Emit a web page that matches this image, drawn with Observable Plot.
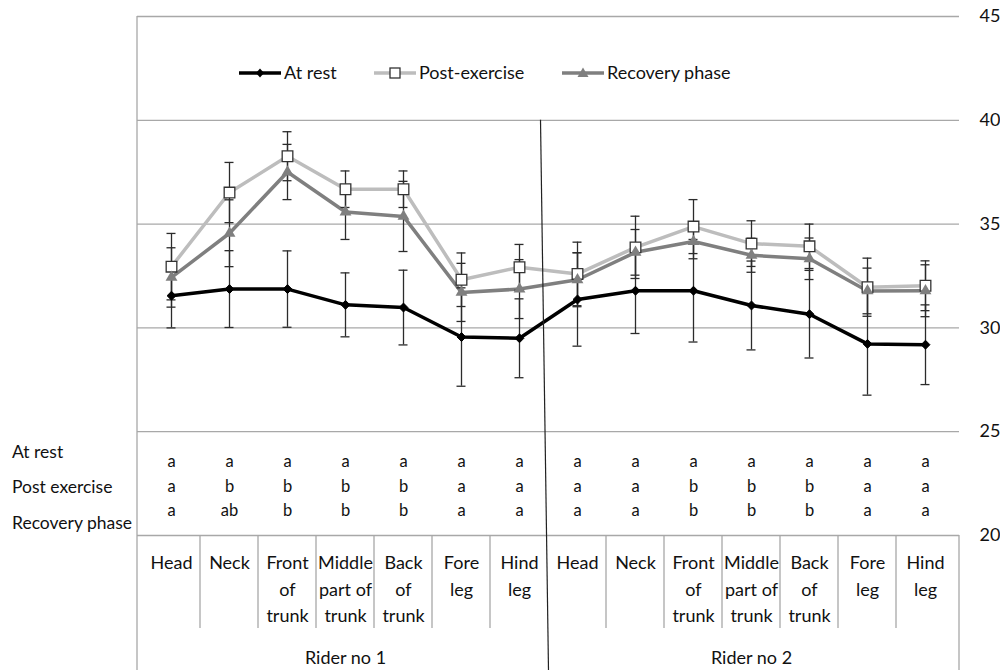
<!DOCTYPE html>
<html><head><meta charset="utf-8">
<script src="https://cdn.jsdelivr.net/npm/d3@7"></script>
<script src="https://cdn.jsdelivr.net/npm/@observablehq/plot@0.6"></script>
<style>
body{margin:0;background:#fff;}
#chart{width:1000px;height:670px;}
</style></head><body><div id="chart"></div>
<script>
// ---- data ----
const riders = ["Rider no 1", "Rider no 2"];
const sites = ["Head", "Neck", "Front of trunk", "Middle part of trunk", "Back of trunk", "Fore leg", "Hind leg"];
const siteLabels = ["Head", "Neck", "Front\nof\ntrunk", "Middle\npart of\ntrunk", "Back\nof\ntrunk", "Fore\nleg", "Hind\nleg"];
const seriesNames = ["At rest", "Post-exercise", "Recovery phase"];
const rowLabels = ["At rest", "Post exercise", "Recovery phase"];
const yTicks = [20, 25, 30, 35, 40, 45];

// means (rider 1 sites, then rider 2 sites)
const atRestMean = [31.55, 31.87, 31.87, 31.11, 30.98, 29.56, 29.50, 31.37, 31.79, 31.79, 31.08, 30.66, 29.23, 29.19];
const postMean   = [32.95, 36.52, 38.27, 36.68, 36.68, 32.32, 32.92, 32.60, 33.88, 34.88, 34.06, 33.93, 31.96, 32.03];
const recMean    = [32.43, 34.56, 37.51, 35.58, 35.37, 31.71, 31.87, 32.32, 33.64, 34.16, 33.50, 33.33, 31.78, 31.79];
// standard deviations
const atRestSD = [1.55, 1.85, 1.84, 1.54, 1.80, 2.37, 1.90, 2.25, 2.06, 2.47, 2.14, 2.11, 2.47, 1.92];
const postSD   = [1.60, 1.45, 1.18, 0.88, 0.88, 1.29, 1.10, 1.53, 1.50, 1.30, 1.10, 1.07, 1.40, 1.20];
const recSD    = [1.43, 1.61, 1.33, 1.32, 1.69, 1.40, 1.42, 1.30, 1.10, 0.83, 0.82, 1.00, 1.10, 1.25];
// significance letters
const atRestLetters = ["a","a","a","a","a","a","a", "a","a","a","a","a","a","a"];
const postLetters   = ["a","b","b","b","b","a","a", "a","a","b","b","b","a","a"];
const recLetters    = ["a","ab","b","b","b","a","a", "a","a","b","b","b","a","a"];

// ---- derived tables ----
const keys = [];
const cats = [];
riders.forEach((r, ri) => sites.forEach((s, si) => {
  const key = r + "|" + s;
  keys.push(key);
  cats.push({key, rider: r, site: s, label: siteLabels[si]});
}));
function rowsOf(series, mean, sd) {
  return keys.map((key, i) => ({key, series, mean: mean[i], sd: sd[i]}));
}
const restRows = rowsOf(seriesNames[0], atRestMean, atRestSD);
const postRows = rowsOf(seriesNames[1], postMean, postSD);
const recRows  = rowsOf(seriesNames[2], recMean, recSD);
const allRows = [...restRows, ...postRows, ...recRows];
const letterRows = [atRestLetters, postLetters, recLetters];

const colors = {"At rest": "#000000", "Post-exercise": "#bdbdbd", "Recovery phase": "#7f7f7f"};
const FONT = "Lato, 'Open Sans', sans-serif";
const gridColor = "#a8a8a8";
const barColor = "#2b2b2b";

// ---- layout chrome (legend, table lines, row labels) ----
function chrome(index, scales, values, dims) {
  const {width, height, marginLeft, marginRight} = dims;
  const x = scales.x, y = scales.y;
  const left = marginLeft, right = width - marginRight;
  const tableTop = y(20);
  const g = d3.create("svg:g").attr("text-anchor", "start");
  // left border
  g.append("line").attr("x1", left).attr("x2", left).attr("y1", y(45)).attr("y2", height)
    .attr("stroke", gridColor).attr("stroke-width", 1.3);
  // right border of table
  g.append("line").attr("x1", right).attr("x2", right).attr("y1", tableTop).attr("y2", height)
    .attr("stroke", gridColor).attr("stroke-width", 1.3);
  // separators between sites
  keys.forEach((k, i) => {
    if (i === 0 || i === sites.length) return;
    const xb = x(k);
    g.append("line").attr("x1", xb).attr("x2", xb).attr("y1", tableTop).attr("y2", tableTop + 93)
      .attr("stroke", gridColor).attr("stroke-width", 1.3);
  });
  // rider divider (slightly slanted)
  const xr = x(keys[sites.length]);
  g.append("line").attr("x1", xr - 7.5).attr("x2", xr + 0.5).attr("y1", y(40)).attr("y2", height)
    .attr("stroke", "#222").attr("stroke-width", 1.2);
  // row labels on the left
  const rowY = [452, 487, 523];
  rowLabels.forEach((t, i) => {
    g.append("text").attr("x", 12).attr("y", rowY[i]).attr("dy", "0.35em")
      .attr("text-anchor", "start")
      .attr("font-family", FONT).attr("font-size", 17.5).attr("fill", "#111").text(t);
  });
  // legend
  const legX = [239, 374, 562];
  const ly = 73;
  seriesNames.forEach((s, i) => {
    const x0 = legX[i];
    g.append("line").attr("x1", x0).attr("x2", x0 + 42).attr("y1", ly).attr("y2", ly)
      .attr("stroke", colors[s]).attr("stroke-width", 3.5);
    const cx = x0 + 21;
    if (i === 0) {
      g.append("path").attr("d", `M${cx},${ly-4.5}L${cx+4},${ly}L${cx},${ly+4.5}L${cx-4},${ly}Z`).attr("fill", "#000");
    } else if (i === 1) {
      g.append("rect").attr("x", cx - 5).attr("y", ly - 5).attr("width", 10).attr("height", 10)
        .attr("fill", "#fff").attr("stroke", "#333").attr("stroke-width", 1.3);
    } else {
      g.append("path").attr("d", `M${cx},${ly-5.5}L${cx+5.5},${ly+4}L${cx-5.5},${ly+4}Z`).attr("fill", "#7f7f7f");
    }
    g.append("text").attr("x", x0 + 45).attr("y", ly).attr("dy", "0.35em")
      .attr("text-anchor", "start")
      .attr("font-family", FONT).attr("font-size", 18).attr("fill", "#111").text(s);
  });
  return g.node();
}

const letterOffsets = [-69, -44, -20];

const chart = Plot.plot({
  width: 1000,
  height: 670,
  marginLeft: 137,
  marginRight: 41,
  marginTop: 16,
  marginBottom: 135,
  style: {fontFamily: FONT, fontSize: "18px", background: "#fff", color: "#111"},
  x: {type: "band", domain: keys, padding: 0, axis: null},
  y: {domain: [20, 45], axis: null},
  marks: [
    Plot.ruleY(yTicks, {stroke: gridColor, strokeWidth: 1.3}),
    Plot.axisY(yTicks, {anchor: "right", tickSize: 0, tickPadding: 20, fontSize: 18, fill: "#111", label: null}),
    // lines
    Plot.line(restRows, {x: "key", y: "mean", stroke: colors["At rest"], strokeWidth: 3.5}),
    Plot.line(postRows, {x: "key", y: "mean", stroke: colors["Post-exercise"], strokeWidth: 3.5}),
    Plot.line(recRows, {x: "key", y: "mean", stroke: colors["Recovery phase"], strokeWidth: 3.5}),
    // error bars
    Plot.ruleX(allRows, {x: "key", y1: d => d.mean - d.sd, y2: d => d.mean + d.sd, stroke: barColor, strokeWidth: 1.3}),
    Plot.tickY(allRows, {x: "key", y: d => d.mean + d.sd, inset: 24.5, stroke: barColor, strokeWidth: 1.3}),
    Plot.tickY(allRows, {x: "key", y: d => d.mean - d.sd, inset: 24.5, stroke: barColor, strokeWidth: 1.3}),
    // markers
    Plot.dot(restRows, {x: "key", y: "mean", symbol: "diamond2", r: 4, fill: "#000", stroke: "#000", strokeWidth: 1}),
    Plot.dot(postRows, {x: "key", y: "mean", symbol: "square", r: 6, fill: "#fff", stroke: "#333", strokeWidth: 1.3}),
    Plot.dot(recRows, {x: "key", y: "mean", symbol: "triangle", r: 4.4, fill: "#7f7f7f", stroke: "none"}),
    // significance letters
    ...letterRows.map((arr, i) => Plot.text(keys, {
      x: d => d, text: (d, j) => arr[j], frameAnchor: "bottom", dy: letterOffsets[i],
      fontSize: 16.5, fill: "#111"
    })),
    // site labels
    Plot.text(cats, {x: "key", text: "label", frameAnchor: "bottom", lineAnchor: "top", dy: 14.5,
      lineHeight: 1.48, fontSize: 18, fill: "#111"}),
    // rider labels (centered under each group)
    Plot.text(riders, {x: (d, i) => keys[i * sites.length + 3], text: d => d, frameAnchor: "bottom",
      lineAnchor: "top", dy: 116, fontSize: 18, fill: "#111"}),
    chrome
  ]
});
document.getElementById("chart").appendChild(chart);
</script>
</body></html>
